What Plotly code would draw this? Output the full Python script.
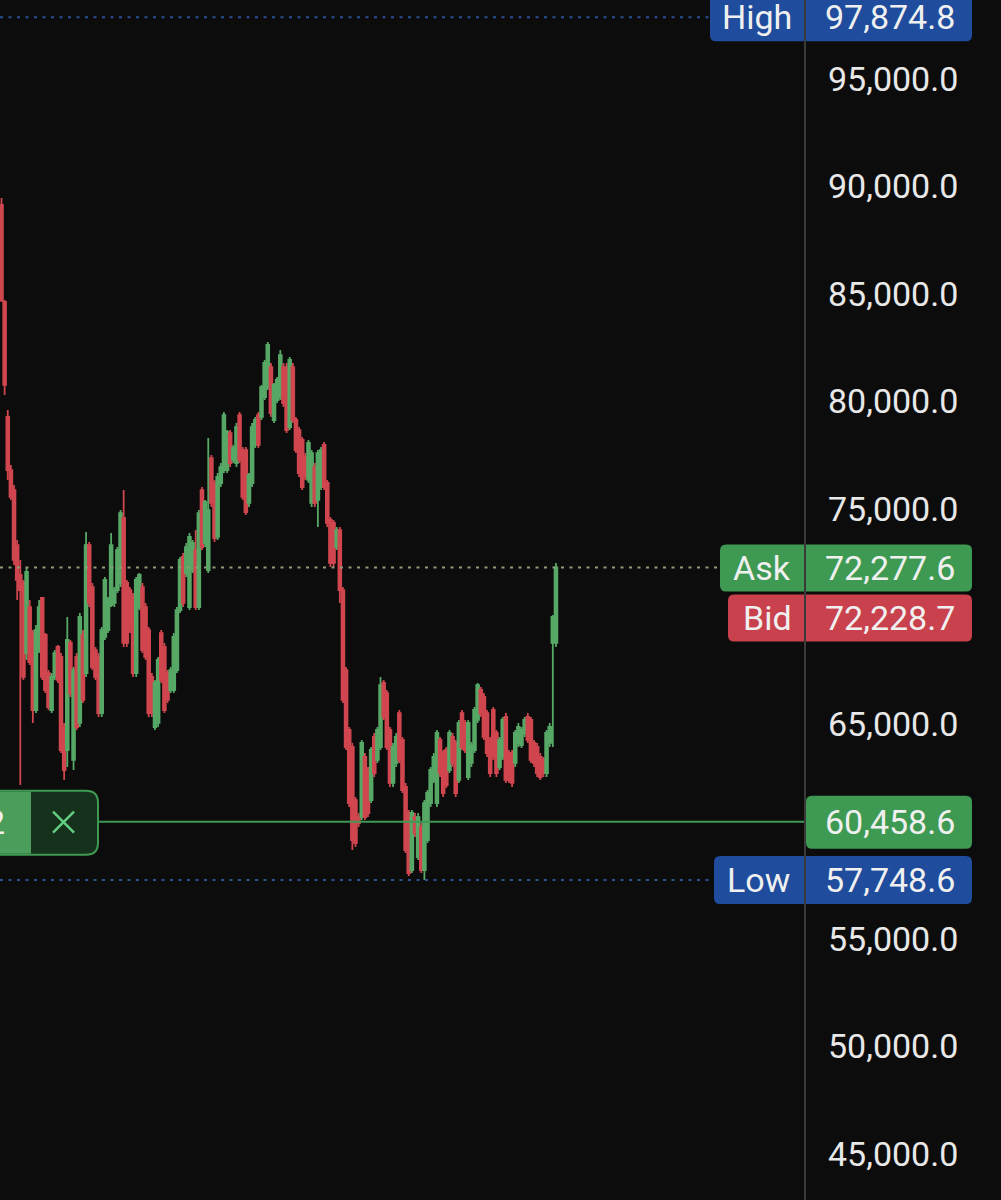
import plotly.graph_objects as go

# ---------------- data ----------------
OPEN = [89140, 84630, 79280, 76810, 75880, 73320, 71930, 71560, 68300, 70440,
        69230, 65650, 68440, 70860, 69140, 67370, 65650, 67190, 68580, 68120,
        64860, 63790, 68770, 63330, 68120, 65050, 69140, 67370, 73320, 71370,
        68440, 68120, 65510, 69050, 69370, 70530, 70630, 71230, 71560, 74580,
        71560, 71230, 70910, 67370, 70440, 71370, 70440, 69370, 67190, 64860,
        65050, 69230, 68580, 67370, 66580, 66580, 67510, 70300, 72770, 72020,
        70440, 72160, 73090, 70440, 75880, 73420, 72160, 77370, 76210, 73700,
        76210, 76810, 76810, 78530, 77280, 77140, 79370, 77740, 77740, 75280,
        76210, 77980, 79370, 79280, 80210, 80670, 81600, 79140, 80070, 80210,
        81600, 81600, 78810, 81600, 79140, 78670, 78210, 77420, 76350, 75280,
        76950, 75420, 76020, 77980, 76210, 74490, 74350, 73230, 74020, 71230,
        67510, 64720, 63930, 61460, 60670, 60670, 63470, 62860, 61460, 64400,
        63330, 63930, 66910, 66440, 64720, 62260, 63190, 65510, 64260, 62070,
        60860, 58210, 60670, 58810, 60210, 58210, 59600, 61320, 62400, 61320,
        64260, 63650, 63790, 62860, 64400, 64120, 62400, 65510, 65050, 62530,
        63190, 63790, 65190, 66580, 66260, 65510, 64260, 65650, 64580, 63000,
        63470, 65330, 63650, 63650, 63190, 64120, 64020, 64580, 65330, 65190,
        64120, 63930, 63470, 63330, 62720, 64120, 68770, 68770]

HIGH = [89470, 84720, 79600, 77050, 76120, 73560, 72630, 71700, 72260, 70770,
        69370, 69600, 70770, 70910, 69230, 67510, 67370, 68440, 68670, 68300,
        65050, 69980, 68910, 67650, 68300, 70160, 69370, 73930, 73460, 71560,
        68580, 68300, 69510, 71840, 70910, 73880, 71370, 73230, 74950, 75880,
        71700, 71370, 71090, 71840, 72020, 71560, 70630, 69510, 67370, 67050,
        68120, 69370, 68770, 67510, 67650, 69230, 70440, 72770, 72950, 73420,
        73880, 73560, 74020, 74950, 76020, 75420, 78300, 77510, 76350, 76670,
        77140, 79510, 78670, 78670, 77980, 79000, 79510, 77880, 77880, 76670,
        79000, 79280, 79510, 80770, 81930, 82770, 81790, 80860, 81140, 82390,
        81790, 81790, 82070, 81790, 79280, 78810, 78350, 77600, 78210, 77740,
        77140, 77740, 77880, 78120, 76350, 74630, 74490, 74160, 74160, 71370,
        67650, 64860, 64120, 61600, 60860, 64260, 63650, 63000, 63930, 64580,
        64860, 67190, 67050, 66580, 64860, 64120, 64580, 65650, 64400, 62260,
        61000, 61000, 60860, 60860, 60390, 61460, 61930, 63000, 63650, 64720,
        64400, 63790, 63930, 64720, 64580, 64260, 65190, 65650, 65190, 65190,
        64160, 65790, 66910, 66720, 66440, 65650, 64400, 65790, 64720, 64400,
        65330, 65510, 63790, 63790, 64720, 65050, 64860, 65330, 65510, 65330,
        64260, 64120, 63650, 63470, 64720, 65050, 70070, 72490]

LOW = [84630, 80300, 76350, 75420, 72390, 70770, 62160, 67050, 67980, 67740,
       65050, 65510, 68300, 67050, 66440, 65650, 65510, 67050, 66910, 63650,
       62400, 63000, 66260, 62860, 64720, 64860, 65980, 67190, 70440, 67510,
       67050, 65330, 65330, 68910, 69230, 70440, 70440, 71090, 71370, 68580,
       68580, 69230, 67190, 67190, 70300, 68300, 67980, 65330, 65330, 64720,
       64860, 66910, 65510, 65980, 66440, 66440, 67370, 70160, 70440, 71840,
       70300, 72020, 70300, 70300, 73090, 73230, 72020, 75090, 73460, 73560,
       76020, 76670, 76670, 76950, 77140, 76950, 77140, 75420, 74720, 75090,
       76020, 77840, 77840, 79140, 80070, 80530, 79280, 79000, 79930, 80070,
       79740, 78530, 78670, 79000, 77600, 76490, 75880, 76350, 76210, 75090,
       75090, 74160, 75880, 75880, 74160, 72300, 72300, 73090, 70630, 65980,
       63790, 61140, 59140, 59280, 60210, 60530, 60530, 60670, 61320, 62530,
       63190, 63790, 65190, 63790, 62070, 62070, 63000, 63190, 61790, 59000,
       57930, 58070, 59740, 58670, 58070, 57748.6, 59460, 61140, 62260, 61140,
       62530, 61600, 62020, 62720, 63000, 61600, 62260, 63790, 63650, 62400,
       63000, 63650, 65050, 65330, 64260, 63470, 62530, 63330, 62530, 62860,
       63330, 62260, 62260, 62070, 63000, 63930, 63880, 64400, 64120, 63190,
       63000, 62530, 62400, 62530, 62530, 63930, 63930, 68580]

CLOSE = [84720, 80770, 76810, 75560, 72630, 71700, 71230, 67190, 72070, 67880,
         65650, 69370, 70440, 67190, 66580, 65790, 67190, 68300, 67050, 63790,
         62860, 68910, 66440, 67510, 64860, 69980, 66120, 73320, 70630, 67650,
         67190, 65510, 69370, 71700, 70770, 73320, 71230, 73090, 74810, 68770,
         68770, 69370, 67370, 71700, 71930, 68440, 68120, 65510, 65510, 66910,
         67980, 67050, 65650, 66120, 67510, 69050, 70300, 72630, 70630, 73230,
         73700, 73420, 70440, 74810, 73230, 75330, 74950, 75280, 73650, 76490,
         76950, 79370, 78580, 77140, 77840, 78810, 77280, 75560, 74860, 76580,
         78810, 79140, 77980, 80670, 81790, 82630, 79460, 80770, 81000, 82160,
         79930, 78670, 81930, 79140, 77740, 76670, 76020, 76490, 78070, 77600,
         75280, 77600, 77740, 76020, 74350, 72490, 72490, 74020, 71230, 66120,
         63930, 61320, 59600, 59460, 60390, 64120, 60670, 60860, 63790, 62720,
         64720, 66810, 65330, 63930, 62260, 63930, 64400, 63330, 61930, 59140,
         58070, 60860, 59930, 60670, 58210, 61320, 61790, 62860, 63470, 64580,
         62720, 61790, 62160, 64580, 63190, 61790, 65050, 63930, 63790, 65050,
         64020, 65650, 66810, 65510, 64400, 63650, 62720, 63470, 62720, 64260,
         65190, 62400, 62400, 62260, 64580, 64860, 64720, 65190, 64260, 63330,
         63190, 62720, 62530, 62720, 64580, 64860, 69980, 72277.6]

HIGH_PRICE = 97874.8
LOW_PRICE = 57748.6
ASK_PRICE = 72277.6
BID_PRICE = 72228.7
ORDER_PRICE = 60458.6
ORDER_QTY = "2"
# 60,000 and 70,000 are hidden behind the price tags in the reference
Y_TICKS = [45000, 50000, 55000, 65000, 75000, 80000, 85000, 90000, 95000]

# ---------------- style ----------------
BG = "#0c0c0c"
CANDLE_GREEN = "#57a866"
CANDLE_RED = "#d0464f"
LABEL_GREEN = "#3e9a52"
LABEL_RED = "#c9414d"
LABEL_BLUE = "#1f4c9c"
TEXT = "#f0f0f0"
FONT = "Roboto"
W, H = 1001, 1200
PLOT_W = 805  # pixel width of plotting area (axis line position)

idx = list(range(len(CLOSE)))

fig = go.Figure(go.Candlestick(
    x=idx, open=OPEN, high=HIGH, low=LOW, close=CLOSE,
    increasing=dict(line=dict(color=CANDLE_GREEN, width=1.8), fillcolor=CANDLE_GREEN),
    decreasing=dict(line=dict(color=CANDLE_RED, width=1.8), fillcolor=CANDLE_RED),
    whiskerwidth=0, hoverinfo="skip", showlegend=False,
))


def rrect(x0, x1, y0, y1, r):
    # y up-positive (pixel mode relative to anchor), y0 bottom, y1 top
    return (f"M {x0 + r},{y1} L {x1 - r},{y1} Q {x1},{y1} {x1},{y1 - r} "
            f"L {x1},{y0 + r} Q {x1},{y0} {x1 - r},{y0} L {x0 + r},{y0} "
            f"Q {x0},{y0} {x0},{y0 + r} L {x0},{y1 - r} Q {x0},{y1} {x0 + r},{y1} Z")


def box(price, x0, x1, y0, y1, color, r=6, line=None):
    return dict(type="path", xref="paper", yref="y", xsizemode="pixel", ysizemode="pixel",
                xanchor=0, yanchor=price, path=rrect(x0, x1, y0, y1, r),
                fillcolor=color, line=dict(width=line[1] if line else 0,
                                           color=line[0] if line else color),
                layer="above")


def hline(price, px0, px1, color, dash, width=2):
    return dict(type="line", xref="paper", yref="y", x0=px0 / PLOT_W, x1=px1 / PLOT_W,
                y0=price, y1=price, line=dict(color=color, width=width, dash=dash),
                layer="above")


shapes = [
    hline(HIGH_PRICE, 0, 712, "#2e4f93", "3px,5.5px"),
    hline(LOW_PRICE, 0, 716, "#2e4f93", "3px,5.5px"),
    hline(ASK_PRICE, 0, 722, "#8a9e78", "3px,5.5px"),
    hline(ORDER_PRICE, 98, PLOT_W, LABEL_GREEN, "solid", 2),
    box(HIGH_PRICE, 710, 972, -24, 24, LABEL_BLUE),
    box(ASK_PRICE, 720, 972, -24, 23, LABEL_GREEN),
    box(BID_PRICE, 728, 972, -73, -26, LABEL_RED),
    box(ORDER_PRICE, 806, 972, -27, 26, LABEL_GREEN),
    box(LOW_PRICE, 714, 972, -24, 24, LABEL_BLUE),
    # order tag on the left
    box(ORDER_PRICE, -30, 98, -33, 31, "#15301b", r=12, line=(LABEL_GREEN, 2)),
    box(ORDER_PRICE, -30, 31, -32, 30, "#4a9d5b", r=0),
    dict(type="line", xref="paper", yref="y", xsizemode="pixel", ysizemode="pixel",
         xanchor=0, yanchor=ORDER_PRICE, x0=53, x1=74, y0=10, y1=-11,
         line=dict(color="#62cf80", width=2.5), layer="above"),
    dict(type="line", xref="paper", yref="y", xsizemode="pixel", ysizemode="pixel",
         xanchor=0, yanchor=ORDER_PRICE, x0=53, x1=74, y0=-11, y1=10,
         line=dict(color="#62cf80", width=2.5), layer="above"),
    # vertical price-axis line
    dict(type="line", xref="paper", yref="paper", x0=1, x1=1, y0=0, y1=1,
         line=dict(color="#3a3a3a", width=2), layer="above"),
]


def label(text, price, xpx, anchor, yshift=0, color=TEXT):
    return dict(text=text, xref="paper", yref="y", x=0, y=price, xshift=xpx,
                yshift=yshift, xanchor=anchor, yanchor="middle", showarrow=False,
                font=dict(family=FONT, size=34, color=color))


annotations = [
    label("High", HIGH_PRICE, 757, "center"),
    label(f"{HIGH_PRICE:,.1f}", HIGH_PRICE, 957, "right"),
    label("Ask", ASK_PRICE, 762, "center"),
    label(f"{ASK_PRICE:,.1f}", ASK_PRICE, 957, "right"),
    label("Bid", BID_PRICE, 767, "center", yshift=-49),
    label(f"{BID_PRICE:,.1f}", BID_PRICE, 957, "right", yshift=-49),
    label(f"{ORDER_PRICE:,.1f}", ORDER_PRICE, 957, "right"),
    label("Low", LOW_PRICE, 758, "center"),
    label(f"{LOW_PRICE:,.1f}", LOW_PRICE, 957, "right"),
    label(ORDER_QTY, ORDER_PRICE, 7, "right"),
]

fig.update_layout(
    width=W, height=H,
    margin=dict(l=0, r=W - PLOT_W, t=0, b=0, pad=0),
    paper_bgcolor=BG, plot_bgcolor=BG,
    showlegend=False, boxgap=0.12, boxgroupgap=0, dragmode=False,
    shapes=shapes, annotations=annotations,
    xaxis=dict(range=[-0.48, 256.5], visible=False, rangeslider=dict(visible=False),
               showgrid=False, zeroline=False, fixedrange=True),
    yaxis=dict(range=[42860, 98674], side="right", tickvals=Y_TICKS, tickformat=",.1f",
               showgrid=False, zeroline=False, showline=False, ticks="",
               ticklabelstandoff=22, fixedrange=True,
               tickfont=dict(family=FONT, size=34, color="#e8e8e8")),
)

fig.write_html("out.html", post_script="document.body.style.margin='0';",
               config={"displayModeBar": False, "staticPlot": True})
